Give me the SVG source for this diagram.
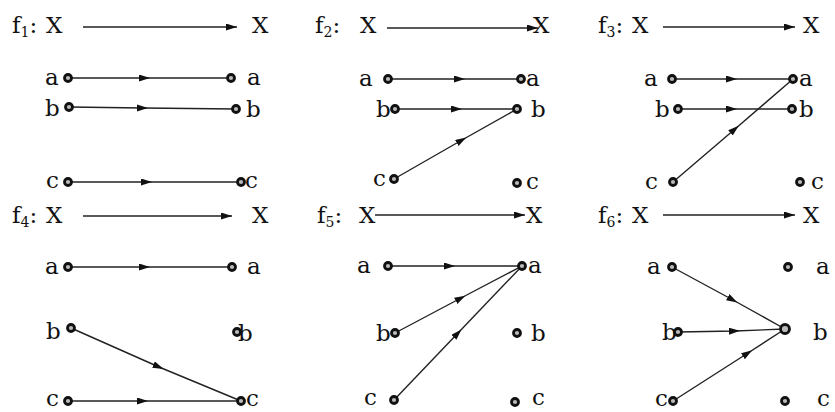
<svg xmlns="http://www.w3.org/2000/svg" width="835" height="412" viewBox="0 0 835 412">
<style>
text{font-family:"DejaVu Serif","Liberation Serif",serif;font-size:23px;fill:#111}
.sub{font-size:14px}
.dot{fill:#bbb;stroke:#111;stroke-width:2.8}
.c{stroke:#222;stroke-width:1.4;fill:none}
.m{marker-mid:url(#mid)}
.t{marker-end:url(#tip)}
</style>
<defs>
<marker id="mid" markerUnits="userSpaceOnUse" markerWidth="12" markerHeight="8" refX="6" refY="3.5" orient="auto"><path d="M0,0 L11,3.5 L0,7 z" fill="#111"/></marker>
<marker id="tip" markerUnits="userSpaceOnUse" markerWidth="12" markerHeight="8" refX="11" refY="3.5" orient="auto"><path d="M0,0 L11,3.5 L0,7 z" fill="#111"/></marker>
</defs>
<rect width="835" height="412" fill="#fff"/>
<g id="connectors">
<path class="c t" d="M83,27 L237,27"/>
<path class="c m" d="M68,78 L145,78 L231,78"/>
<path class="c m" d="M69,107 L143,108 L236,109"/>
<path class="c m" d="M68,182 L147,182 L241,182"/>
<path class="c t" d="M387,28 L538,28"/>
<path class="c m" d="M388,79 L460,79 L521,79"/>
<path class="c m" d="M395,109 L457,109 L517,109"/>
<path class="c m" d="M394,179 L462,140 L517,109"/>
<path class="c t" d="M663,27 L795,27"/>
<path class="c m" d="M672,79 L732,79 L793,79"/>
<path class="c m" d="M678,109 L732,109 L792,109"/>
<path class="c m" d="M673,182 L735,129 L793,79"/>
<path class="c t" d="M83,216 L232,216"/>
<path class="c m" d="M68,267 L145,267 L232,267"/>
<path class="c m" d="M71,328 L159,367 L241,401"/>
<path class="c m" d="M68,401 L143,401 L241,401"/>
<path class="c t" d="M375,215 L525,215"/>
<path class="c m" d="M388,266 L450,266 L522,266"/>
<path class="c m" d="M395,333 L461,298 L522,266"/>
<path class="c m" d="M394,400 L458,333 L522,266"/>
<path class="c t" d="M663,215 L795,215"/>
<path class="c m" d="M672,267 L733,300 L785,329"/>
<path class="c m" d="M678,332 L735,331 L785,329"/>
<path class="c m" d="M673,401 L748,353 L785,329"/>
</g>
<g id="f1">
<text x="12" y="33">f<tspan class="sub" dy="4">1</tspan><tspan dy="-4">:</tspan><tspan x="46">X</tspan></text>
<text x="252" y="33">X</text>
<g id="f1-a-src"><text x="45" y="85">a</text><circle class="dot" cx="68" cy="78" r="3.5"/></g>
<g id="f1-b-src"><text x="45" y="116">b</text><circle class="dot" cx="69" cy="107" r="3.5"/></g>
<g id="f1-c-src"><text x="46" y="188">c</text><circle class="dot" cx="68" cy="182" r="3.5"/></g>
<g id="f1-a-dst"><circle class="dot" cx="231" cy="78" r="3.5"/><text x="247" y="85">a</text></g>
<g id="f1-b-dst"><circle class="dot" cx="236" cy="109" r="3.5"/><text x="246" y="117">b</text></g>
<g id="f1-c-dst"><circle class="dot" cx="241" cy="182" r="3.5"/><text x="245" y="188">c</text></g>
</g>
<g id="f2">
<text x="315" y="33">f<tspan class="sub" dy="4">2</tspan><tspan dy="-4">:</tspan><tspan x="360">X</tspan></text>
<text x="533" y="33">X</text>
<g id="f2-a-src"><text x="359" y="86">a</text><circle class="dot" cx="388" cy="79" r="3.5"/></g>
<g id="f2-b-src"><text x="376" y="117">b</text><circle class="dot" cx="395" cy="109" r="3.5"/></g>
<g id="f2-c-src"><text x="373" y="186">c</text><circle class="dot" cx="394" cy="179" r="3.5"/></g>
<g id="f2-a-dst"><circle class="dot" cx="521" cy="79" r="3.5"/><text x="526" y="86">a</text></g>
<g id="f2-b-dst"><circle class="dot" cx="517" cy="109" r="3.5"/><text x="531" y="117">b</text></g>
<g id="f2-c-dst"><circle class="dot" cx="517" cy="183" r="3.5"/><text x="526" y="189">c</text></g>
</g>
<g id="f3">
<text x="598" y="33">f<tspan class="sub" dy="4">3</tspan><tspan dy="-4">:</tspan><tspan x="632">X</tspan></text>
<text x="803" y="33">X</text>
<g id="f3-a-src"><text x="644" y="86">a</text><circle class="dot" cx="672" cy="79" r="3.5"/></g>
<g id="f3-b-src"><text x="655" y="117">b</text><circle class="dot" cx="678" cy="109" r="3.5"/></g>
<g id="f3-c-src"><text x="645" y="189">c</text><circle class="dot" cx="673" cy="182" r="3.5"/></g>
<g id="f3-a-dst"><circle class="dot" cx="793" cy="79" r="3.5"/><text x="799" y="86">a</text></g>
<g id="f3-b-dst"><circle class="dot" cx="792" cy="109" r="3.5"/><text x="799" y="117">b</text></g>
<g id="f3-c-dst"><circle class="dot" cx="800" cy="182" r="3.5"/><text x="811" y="189">c</text></g>
</g>
<g id="f4">
<text x="12" y="223">f<tspan class="sub" dy="4">4</tspan><tspan dy="-4">:</tspan><tspan x="46">X</tspan></text>
<text x="252" y="223">X</text>
<g id="f4-a-src"><text x="45" y="274">a</text><circle class="dot" cx="68" cy="267" r="3.5"/></g>
<g id="f4-b-src"><text x="46" y="339">b</text><circle class="dot" cx="71" cy="328" r="3.5"/></g>
<g id="f4-c-src"><text x="46" y="406">c</text><circle class="dot" cx="68" cy="401" r="3.5"/></g>
<g id="f4-a-dst"><circle class="dot" cx="232" cy="267" r="3.5"/><text x="247" y="274">a</text></g>
<g id="f4-b-dst"><text x="238" y="341">b</text><circle class="dot" cx="237" cy="332" r="3.5"/></g>
<g id="f4-c-dst"><circle class="dot" cx="241" cy="401" r="3.5"/><text x="246" y="406">c</text></g>
</g>
<g id="f5">
<text x="317" y="223">f<tspan class="sub" dy="4">5</tspan><tspan dy="-4">:</tspan><tspan x="359">X</tspan></text>
<text x="526" y="223">X</text>
<g id="f5-a-src"><text x="357" y="273">a</text><circle class="dot" cx="388" cy="266" r="3.5"/></g>
<g id="f5-b-src"><text x="376" y="341">b</text><circle class="dot" cx="395" cy="333" r="3.5"/></g>
<g id="f5-c-src"><text x="364" y="405">c</text><circle class="dot" cx="394" cy="400" r="3.5"/></g>
<g id="f5-a-dst"><circle class="dot" cx="522" cy="266" r="3.5"/><text x="528" y="273">a</text></g>
<g id="f5-b-dst"><circle class="dot" cx="517" cy="333" r="3.5"/><text x="531" y="341">b</text></g>
<g id="f5-c-dst"><circle class="dot" cx="515" cy="402" r="3.5"/><text x="532" y="405">c</text></g>
</g>
<g id="f6">
<text x="598" y="223">f<tspan class="sub" dy="4">6</tspan><tspan dy="-4">:</tspan><tspan x="632">X</tspan></text>
<text x="803" y="223">X</text>
<g id="f6-a-src"><text x="647" y="274">a</text><circle class="dot" cx="672" cy="267" r="3.5"/></g>
<g id="f6-b-src"><text x="662" y="340">b</text><circle class="dot" cx="678" cy="332" r="3.5"/></g>
<g id="f6-c-src"><text x="655" y="406">c</text><circle class="dot" cx="673" cy="401" r="3.5"/></g>
<g id="f6-a-dst"><circle class="dot" cx="788" cy="267" r="3.5"/><text x="816" y="274">a</text></g>
<g id="f6-b-dst"><circle class="dot" cx="785" cy="329" r="4.5"/><text x="813" y="340">b</text></g>
<g id="f6-c-dst"><circle class="dot" cx="785" cy="401" r="3.5"/><text x="817" y="406">c</text></g>
</g>
</svg>
